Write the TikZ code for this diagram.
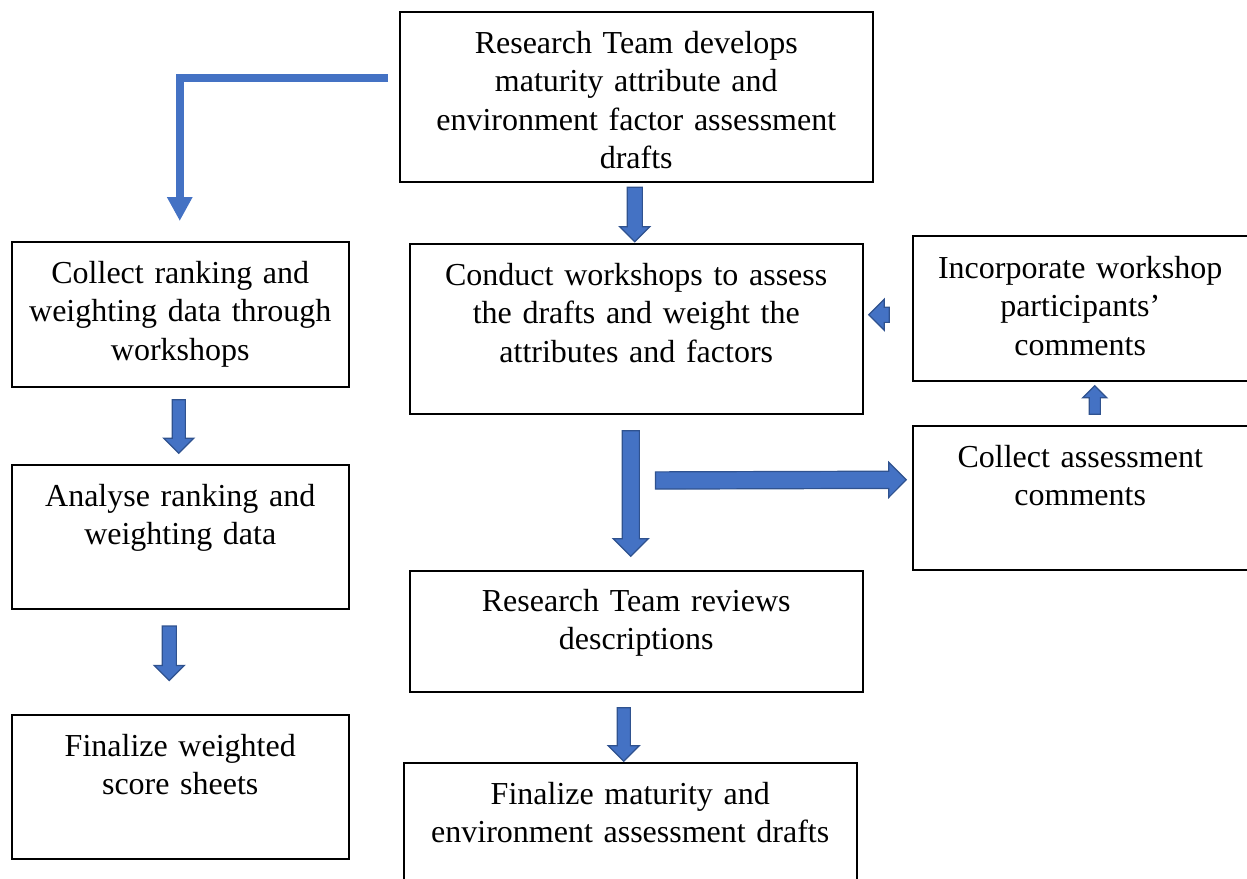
\documentclass[tikz,border=0pt]{standalone}
\usepackage{fontspec}
\setmainfont{Liberation Serif}
\usepackage{tikz}
\usetikzlibrary{arrows.meta, shapes.arrows, calc, positioning}
\definecolor{arrowfill}{RGB}{68, 114, 196}
\definecolor{arrowedge}{RGB}{47, 82, 143}

\tikzset{
  stepbox/.style={draw=black, line width=1.5bp, rectangle, inner sep=0pt, anchor=north west},
  steptext/.style={font=\fontsize{32bp}{38.5bp}\selectfont, text width=460bp, align=center,
                   inner sep=0pt, anchor=base},
  blockarrow/.style 2 args={single arrow, draw=arrowedge, fill=arrowfill, line width=1.2bp,
                   inner xsep=0pt, inner ysep=#1, single arrow head extend=#2, minimum width=0pt},
  elbowarrow/.style={draw=arrowfill, line width=8bp, -{Triangle[width=24bp, length=24bp]}},
}

% block arrow between two points: name, {shaft}{head}, from, to
\newcommand{\blockarrow}[4]{%
  \path let \p1=#3, \p2=#4, \n1={veclen(\x2-\x1,\y2-\y1)}, \n2={atan2(\y2-\y1,\x2-\x1)} in
    node[blockarrow=#2, minimum height=\n1, rotate=\n2] (#1)
      at (0.5*\x1+0.5*\x2, 0.5*\y1+0.5*\y2) {};}

\begin{document}
\begin{tikzpicture}[x=1bp, y=-1bp]
  \useasboundingbox (0,0) rectangle (1247,879);

  % boxes
  \node[stepbox, minimum width=473bp, minimum height=170bp] (dev) at (399,11) {};
  \node[stepbox, minimum width=337bp, minimum height=145bp] (collect) at (11,241) {};
  \node[stepbox, minimum width=453bp, minimum height=170bp] (conduct) at (409,243) {};
  \node[stepbox, minimum width=335bp, minimum height=145bp] (incorp) at (912,235) {};
  \node[stepbox, minimum width=335bp, minimum height=144bp] (collassess) at (912,425) {};
  \node[stepbox, minimum width=337bp, minimum height=144bp] (analyse) at (11,464) {};
  \node[stepbox, minimum width=453bp, minimum height=121bp] (reviews) at (409,570) {};
  \node[stepbox, minimum width=337bp, minimum height=144bp] (finweight) at (11,714) {};
  \node[stepbox, minimum width=453bp, minimum height=140bp] (finmat) at (403,762) {};

  % texts
  \node[steptext] (devtxt) at ($(dev.north)+(0,42)$)
    {Research Team develops\\ maturity attribute and\\ environment factor assessment\\ drafts};
  \node[steptext] (collecttxt) at ($(collect.north)+(0,42)$)
    {Collect ranking and\\ weighting data through\\ workshops};
  \node[steptext] (conducttxt) at ($(conduct.north)+(0,42)$)
    {Conduct workshops to assess\\ the drafts and weight the\\ attributes and factors};
  \node[steptext] (incorptxt) at ($(incorp.north)+(0,43)$)
    {Incorporate workshop\\ participants’\\ comments};
  \node[steptext] (collassesstxt) at ($(collassess.north)+(0,42)$)
    {Collect assessment\\ comments};
  \node[steptext] (analysetxt) at ($(analyse.north)+(0,42)$)
    {Analyse ranking and\\ weighting data};
  \node[steptext] (reviewstxt) at ($(reviews.north)+(0,41)$)
    {Research Team reviews\\ descriptions};
  \node[steptext] (finweighttxt) at ($(finweight.north)+(0,42)$)
    {Finalize weighted\\ score sheets};
  \node[steptext] (finmattxt) at ($(finmat.north)+(0,42)$)
    {Finalize maturity and\\ environment assessment drafts};

  % arrows
  \draw[elbowarrow] ($(dev.west)+(-11,-19)$) -| ($(collect.north)+(-0.5,-20)$);
  \blockarrow{a-dev}{{7bp}{7.5bp}}{($(dev.south)+(-1.5,1)$)}{($(conduct.north)+(-1.5,-5)$)}
  \blockarrow{a-collect}{{6bp}{8.5bp}}{($(collect.south)+(-1.5,9)$)}{($(analyse.north)+(-1.5,-14)$)}
  \blockarrow{a-analyse}{{6.5bp}{8bp}}{($(analyse.south)+(-11,13)$)}{($(finweight.north)+(-11,-37)$)}
  \blockarrow{a-conduct}{{8bp}{9bp}}{($(conduct.south)+(-5.5,12)$)}{($(reviews.north)+(-5.5,-18)$)}
  \blockarrow{a-side}{{8bp}{9bp}}{($(conduct.south)+(15,66)$)}{($(collassess.west)+(-10,-18)$)}
  \blockarrow{a-up}{{5bp}{6.5bp}}{($(collassess.north)+(14.5,-8)$)}{($(incorp.south)+(14.5,7)$)}
  \blockarrow{a-back}{{7bp}{8bp}}{($(incorp.west)+(-19,6.5)$)}{($(conduct.east)+(9,-14)$)}
  \blockarrow{a-reviews}{{6bp}{9bp}}{($(reviews.south)+(-12.5,12)$)}{($(finmat.north)+(-6.5,-4)$)}
\end{tikzpicture}
\end{document}
